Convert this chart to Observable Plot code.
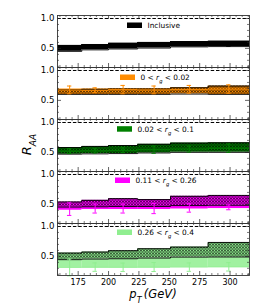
<!DOCTYPE html>
<html><head><meta charset="utf-8">
<script src="https://cdn.jsdelivr.net/npm/d3@7"></script>
<script src="https://cdn.jsdelivr.net/npm/@observablehq/plot@0.6"></script>
<style>body{margin:0;background:#fff}svg{display:block}</style>
</head><body><div id="chart"></div>
<script>
// ---- data ----
const pTEdges = [158, 178, 200, 224, 251, 282, 316];
const pTCenters = [168, 189, 212, 237.5, 266.5, 299];
const panelNames = ["Inclusive", "0 < r_g < 0.02", "0.02 < r_g < 0.1", "0.11 < r_g < 0.26", "0.26 < r_g < 0.4"];
const panelColors = ["black", "#ff8c00", "#008000", "#ff00ff", "#90ee90"];
// theory bands (per bin, low / high)
const bandLo = [
  [0.45, 0.475, 0.49, 0.505, 0.525, 0.53],
  [0.60, 0.60, 0.60, 0.60, 0.605, 0.60],
  [0.47, 0.475, 0.48, 0.49, 0.50, 0.50],
  [0.455, 0.46, 0.465, 0.465, 0.48, 0.485],
  [0.445, 0.455, 0.46, 0.472, 0.488, 0.49]
];
const bandHi = [
  [0.55, 0.565, 0.585, 0.60, 0.615, 0.62],
  [0.68, 0.685, 0.69, 0.69, 0.71, 0.74],
  [0.58, 0.60, 0.615, 0.635, 0.655, 0.66],
  [0.54, 0.567, 0.596, 0.58, 0.635, 0.65],
  [0.555, 0.572, 0.595, 0.628, 0.655, 0.733]
];
// data: central values, statistical errors, systematic box limits
const dataVal = [
  [0.50, 0.52, 0.54, 0.555, 0.57, 0.575],
  [0.675, 0.67, 0.68, 0.675, 0.685, 0.69],
  [0.52, 0.525, 0.535, 0.545, 0.555, 0.57],
  [0.42, 0.43, 0.43, 0.43, 0.44, 0.45],
  [0.315, 0.32, 0.318, 0.322, 0.32, 0.325]
];
const dataStat = [
  [0.02, 0.02, 0.02, 0.02, 0.02, 0.04],
  [0.065, 0.04, 0.07, 0.065, 0.065, 0.07],
  [0.04, 0.035, 0.04, 0.06, 0.05, 0.07],
  [0.105, 0.075, 0.075, 0.085, 0.07, 0.04],
  [0.14, 0.07, 0.07, 0.075, 0.07, 0.07]
];
const sysLo = [
  [0.46, 0.48, 0.50, 0.515, 0.53, 0.535],
  [0.64, 0.64, 0.645, 0.64, 0.65, 0.655],
  [0.48, 0.485, 0.495, 0.505, 0.515, 0.53],
  [0.41, 0.42, 0.42, 0.42, 0.43, 0.43],
  [0.30, 0.30, 0.30, 0.30, 0.31, 0.31]
];
const sysHi = [
  [0.54, 0.56, 0.58, 0.595, 0.61, 0.615],
  [0.69, 0.69, 0.695, 0.695, 0.71, 0.73],
  [0.56, 0.565, 0.575, 0.585, 0.595, 0.61],
  [0.47, 0.47, 0.475, 0.475, 0.49, 0.49],
  [0.445, 0.455, 0.46, 0.47, 0.485, 0.49]
];
const xMajor = [175, 200, 225, 250, 275, 300];
const xMinor = [160,165,170,180,185,190,195,205,210,215,220,230,235,240,245,255,260,265,270,280,285,290,295,305,310,315];
const yMajor = [0.5, 1.0];
const yMinor = [0.2, 0.3, 0.4, 0.6, 0.7, 0.8, 0.9];

// ---- layout ----
const W = 262, H = 306, ML = 57, MR = 13, MT = 14.5, MB = 31.5;
const plotW = W - ML - MR, panelH = (H - MT - MB) / 5;
const legendSwatchLeft = [70, 63, 60, 58, 60];
const legendTextLeft = [90, 83, 80, 78, 80];
const legendTop = [7.5, 7.5, 7.2, 6.5, 6.5];

const marks = [];
panelNames.forEach((name, p) => {
  const band = pTEdges.map((x, i) => ({panel: name, x, lo: bandLo[p][Math.min(i, 5)], hi: bandHi[p][Math.min(i, 5)]}));
  const pts = pTCenters.map((x, i) => ({panel: name, x, x1: pTEdges[i], x2: pTEdges[i + 1],
    y: dataVal[p][i], s: dataStat[p][i], sl: sysLo[p][i], sh: sysHi[p][i]}));
  const col = panelColors[p];
  const fillUrl = p === 0 ? "black" : `url(#hatch${p})`;
  marks.push(
    Plot.rect(pts, {fy: "panel", x1: "x1", x2: "x2", y1: "sl", y2: "sh", fill: col, fillOpacity: p === 4 ? 0.85 : 1}),
    Plot.areaY(band, {fy: "panel", x: "x", y1: "lo", y2: "hi", curve: "step-after", fill: fillUrl}),
    Plot.lineY(band, {fy: "panel", x: "x", y: "lo", curve: "step-after", stroke: "black", strokeWidth: 0.9}),
    Plot.lineY(band, {fy: "panel", x: "x", y: "hi", curve: "step-after", stroke: "black", strokeWidth: 0.9}),
    Plot.ruleY(pts, {fy: "panel", y: "y", x1: "x1", x2: "x2", stroke: col, strokeWidth: 1, strokeOpacity: p === 4 ? 0.6 : 1}),
    Plot.ruleX(pts, {fy: "panel", x: "x", y1: d => d.y - d.s, y2: d => d.y + d.s, stroke: col, strokeWidth: 1}),
    Plot.ruleY(pts, {fy: "panel", y: d => d.y + d.s, x1: d => d.x - 1.8, x2: d => d.x + 1.8, stroke: col, strokeWidth: 1}),
    Plot.ruleY(pts, {fy: "panel", y: d => d.y - d.s, x1: d => d.x - 1.8, x2: d => d.x + 1.8, stroke: col, strokeWidth: 1}),
    Plot.rect([{panel: name}], {fy: "panel", fill: col,
      insetLeft: legendSwatchLeft[p], insetRight: plotW - legendSwatchLeft[p] - 15,
      insetTop: legendTop[p], insetBottom: panelH - legendTop[p] - 5.5}),
    Plot.text([{panel: name}], {fy: "panel", text: () => name, frameAnchor: "top-left", lineAnchor: "middle",
      dx: legendTextLeft[p], dy: legendTop[p] + 2.75, textAnchor: "start", fontSize: 7.4, fill: "black"})
  );
});

const plot = Plot.plot({
  width: W, height: H,
  marginLeft: ML, marginRight: MR, marginTop: MT, marginBottom: MB,
  style: {fontFamily: "DejaVu Sans, sans-serif", background: "white", color: "black"},
  x: {domain: [158, 316]},
  y: {domain: [0.18, 1.05]},
  fy: {domain: panelNames, padding: 0, axis: null, label: null},
  marks: [
    ...marks,
    Plot.ruleY([1], {stroke: "black", strokeWidth: 1, strokeDasharray: "3.5,1.8"}),
    // inward ticks
    Plot.tickY(yMajor, {y: d => d, insetRight: plotW - 4, stroke: "#222", strokeWidth: 0.7}),
    Plot.tickY(yMajor, {y: d => d, insetLeft: plotW - 4, stroke: "#222", strokeWidth: 0.7}),
    Plot.tickY(yMinor, {y: d => d, insetRight: plotW - 2, stroke: "#222", strokeWidth: 0.6}),
    Plot.tickY(yMinor, {y: d => d, insetLeft: plotW - 2, stroke: "#222", strokeWidth: 0.6}),
    Plot.tickX(xMajor, {x: d => d, insetTop: panelH - 4, stroke: "#222", strokeWidth: 0.7}),
    Plot.tickX(xMajor, {x: d => d, insetBottom: panelH - 4, stroke: "#222", strokeWidth: 0.7}),
    Plot.tickX(xMinor, {x: d => d, insetTop: panelH - 2, stroke: "#222", strokeWidth: 0.6}),
    Plot.tickX(xMinor, {x: d => d, insetBottom: panelH - 2, stroke: "#222", strokeWidth: 0.6}),
    Plot.frame({stroke: "#333", strokeWidth: 0.9}),
    Plot.axisY({ticks: yMajor, tickSize: 0, tickPadding: 3, tickFormat: d3.format(".1f"), fontSize: 8.6, label: null}),
    Plot.axisX({ticks: xMajor, tickSize: 0, tickPadding: 4, fontSize: 8, label: null})
  ]
});

// hatch patterns
const svg = d3.select(plot);
const defs = svg.insert("defs", ":first-child");
panelColors.forEach((c, p) => {
  const pat = defs.append("pattern").attr("id", `hatch${p}`).attr("patternUnits", "userSpaceOnUse")
    .attr("width", 3).attr("height", 3);
  pat.append("rect").attr("width", 3).attr("height", 3).attr("fill", c);
  pat.append("path").attr("d", "M0,0L3,3M3,0L0,3M-1,2L1,4M2,-1L4,1M-1,1L1,-1M2,4L4,2")
    .attr("stroke", "black").attr("stroke-width", 0.6);
});

// subscripts in legend labels
svg.selectAll("text").each(function() {
  const t = this.textContent;
  if (t.includes("r_g")) {
    const [a, b] = t.split("r_g");
    const sel = d3.select(this);
    sel.text("");
    sel.append("tspan").text(a);
    sel.append("tspan").attr("font-style", "italic").text("r");
    sel.append("tspan").attr("font-style", "italic").attr("font-size", "5.2").attr("baseline-shift", "sub").text("g");
    sel.append("tspan").text(b);
  }
});

// axis labels
const yl = svg.append("text").attr("transform", `translate(31,${MT + 5 * panelH / 2}) rotate(-90)`)
  .attr("text-anchor", "middle").attr("font-family", "DejaVu Sans, sans-serif").attr("font-size", 13).attr("font-style", "italic");
yl.append("tspan").text("R");
yl.append("tspan").attr("font-size", 9).attr("baseline-shift", "sub").text("AA");
const xl = svg.append("text").attr("x", ML + plotW / 2).attr("y", H - 8)
  .attr("text-anchor", "middle").attr("font-family", "DejaVu Sans, sans-serif").attr("font-size", 11.5).attr("font-style", "italic");
xl.append("tspan").text("p");
xl.append("tspan").attr("font-size", 8).attr("baseline-shift", "sub").text("T");
xl.append("tspan").attr("baseline-shift", "0").text("\u2009(GeV)");

document.getElementById("chart").appendChild(plot);
</script>
</body></html>
